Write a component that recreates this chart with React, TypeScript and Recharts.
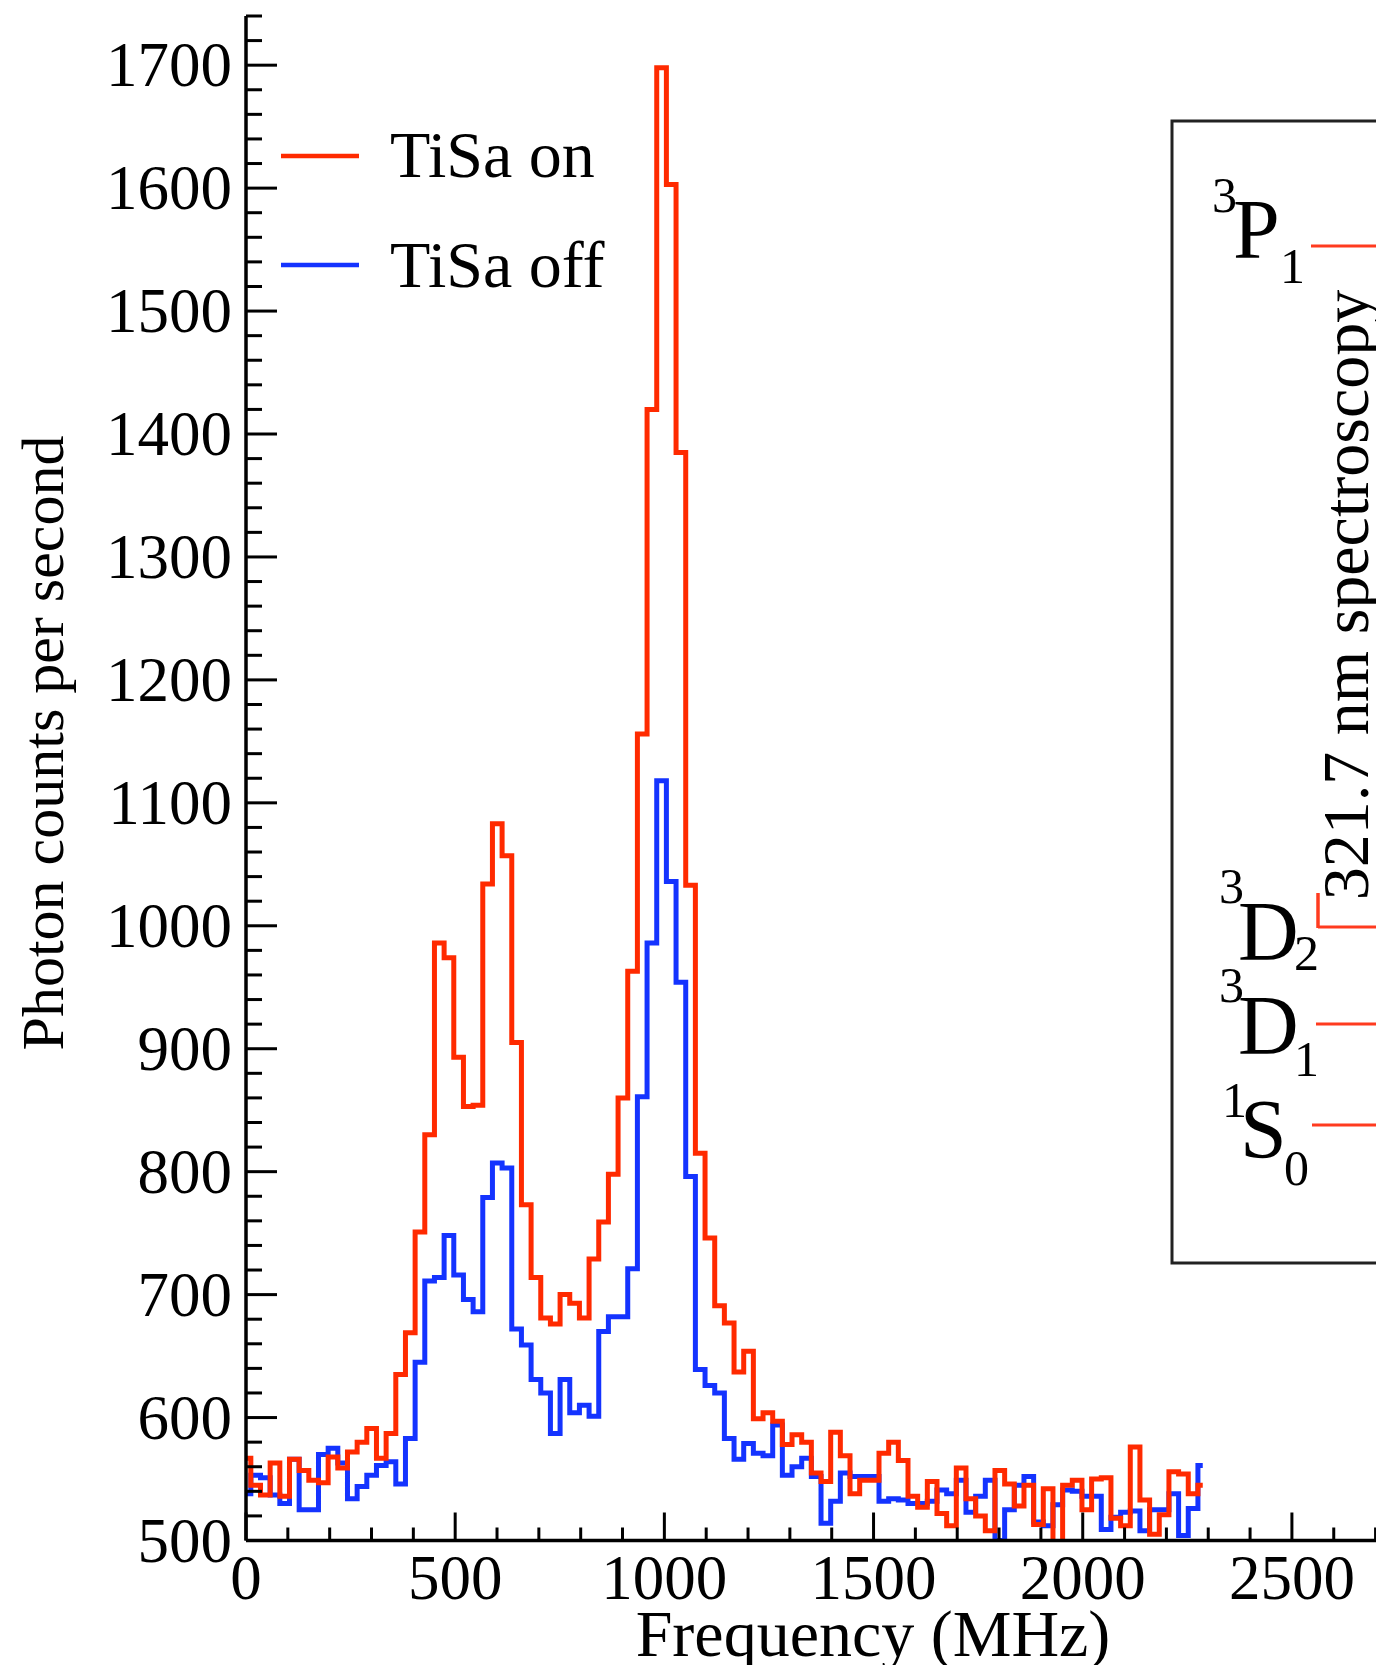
import React from 'react';
import { LineChart, Line, XAxis, YAxis } from 'recharts';

// bin centres of the frequency scan (MHz)
const freqMHz = [
  0, 23.1, 46.2, 69.3, 92.4, 115.5, 138.6, 161.7, 184.8, 207.9,
  231, 254.1, 277.2, 300.3, 323.4, 346.5, 369.6, 392.7, 415.8, 438.9,
  462, 485.1, 508.2, 531.3, 554.4, 577.5, 600.6, 623.7, 646.8, 669.9,
  693, 716.1, 739.2, 762.3, 785.4, 808.5, 831.6, 854.7, 877.8, 900.9,
  924, 947.1, 970.2, 993.3, 1016.4, 1039.5, 1062.6, 1085.7, 1108.8, 1131.9,
  1155, 1178.1, 1201.2, 1224.3, 1247.4, 1270.5, 1293.6, 1316.7, 1339.8, 1362.9,
  1386, 1409.1, 1432.2, 1455.3, 1478.4, 1501.5, 1524.6, 1547.7, 1570.8, 1593.9,
  1617, 1640.1, 1663.2, 1686.3, 1709.4, 1732.5, 1755.6, 1778.7, 1801.8, 1824.9,
  1848, 1871.1, 1894.2, 1917.3, 1940.4, 1963.5, 1986.6, 2009.7, 2032.8, 2055.9,
  2079, 2102.1, 2125.2, 2148.3, 2171.4, 2194.5, 2217.6, 2240.7, 2263.8, 2286.9,
];

// photon counts per second, TiSa on (red)
const tisaOn = [
  567, 545, 537, 563, 536, 566, 557, 549, 547, 568,
  559, 572, 580, 591, 567, 587, 635, 669, 751, 830,
  986, 974, 893, 853, 854, 1034, 1083, 1057, 905, 773,
  714, 681, 676, 700, 693, 681, 729, 759, 798, 860,
  963, 1156, 1420, 1698, 1603, 1385, 1033, 815, 746, 691,
  677, 637, 654, 599, 604, 597, 578, 586, 580, 555,
  548, 588, 569, 538, 549, 549, 571, 580, 565, 536,
  527, 548, 522, 512, 559, 534, 520, 508, 557, 546,
  528, 545, 513, 542, 499, 545, 549, 525, 550, 551,
  518, 512, 576, 533, 505, 521, 556, 554, 538, 545,
];

// photon counts per second, TiSa off (blue)
const tisaOff = [
  538, 553, 551, 537, 530, 566, 525, 525, 570, 575,
  563, 534, 544, 553, 561, 564, 546, 583, 645, 711,
  714, 748, 716, 696, 686, 779, 807, 803, 672, 659,
  631, 620, 587, 631, 604, 610, 601, 670, 682, 682,
  721, 861, 986, 1118, 1036, 954, 796, 639, 626, 620,
  583, 566, 579, 571, 569, 594, 553, 560, 567, 552,
  514, 532, 555, 552, 552, 552, 532, 534, 533, 530,
  530, 532, 541, 538, 549, 523, 536, 549, 500, 525,
  545, 552, 515, 512, 529, 541, 540, 536, 536, 509,
  519, 523, 524, 508, 525, 525, 538, 504, 526, 561,
];

const xTickLabels = [0, 500, 1000, 1500, 2000, 2500];
const yTickLabels = [500, 600, 700, 800, 900, 1000, 1100, 1200, 1300, 1400, 1500, 1600, 1700];

const data = freqMHz.map((f, i) => ({ freq: f, on: tisaOn[i], off: tisaOff[i] }));

// minor ticks: every 100 MHz and every 20 counts
const xTicks = Array.from({ length: 28 }, (_, i) => i * 100);
const yTicks = Array.from({ length: 63 }, (_, i) => 500 + i * 20);

const serif = '"Liberation Serif", "Times New Roman", serif';
const RED = '#ff2a00';
const BLUE = '#1433ff';
const LEVEL_RED = '#ff3b1f';

const XTick = (props: any) => {
  const { x, y, payload } = props;
  const v = payload.value as number;
  const major = xTickLabels.includes(v);
  return (
    <g>
      <line x1={x} x2={x} y1={y} y2={y - (major ? 28 : 13)} stroke="#000" strokeWidth={3} />
      {major && (
        <text x={x} y={y + 58} textAnchor="middle" fontFamily={serif} fontSize={63} fill="#000">
          {v}
        </text>
      )}
    </g>
  );
};

const YTick = (props: any) => {
  const { x, y, payload } = props;
  const v = payload.value as number;
  const major = yTickLabels.includes(v);
  return (
    <g>
      <line x1={x} x2={x + (major ? 31 : 16)} y1={y} y2={y} stroke="#000" strokeWidth={3} />
      {major && (
        <text x={x - 14} y={y + 21} textAnchor="end" fontFamily={serif} fontSize={63} fill="#000">
          {v}
        </text>
      )}
    </g>
  );
};

const Level = ({ sup, big, sub, supX, supY, bigX, bigY, subX, subY }: any) => (
  <g fontFamily={serif} fill="#000">
    <text x={supX} y={supY} fontSize={50}>{sup}</text>
    <text x={bigX} y={bigY} fontSize={84}>{big}</text>
    <text x={subX} y={subY} fontSize={50}>{sub}</text>
  </g>
);

export default function App() {
  return (
    <div style={{ position: 'absolute', left: 0, top: 0, width: 1376, height: 1665, background: '#fff', overflow: 'hidden' }}>
      <LineChart width={1376} height={1665} data={data} margin={{ top: 16, right: 0, bottom: 0, left: 0 }}>
        <XAxis
          dataKey="freq"
          type="number"
          domain={[0, 2701]}
          ticks={xTicks}
          interval={0}
          height={124.5}
          tickSize={0}
          tickMargin={0}
          tickLine={false}
          axisLine={{ stroke: '#000', strokeWidth: 3.5 }}
          tick={XTick}
          allowDataOverflow
        />
        <YAxis
          type="number"
          domain={[500, 1740]}
          ticks={yTicks}
          interval={0}
          width={246}
          tickSize={0}
          tickMargin={0}
          tickLine={false}
          axisLine={{ stroke: '#000', strokeWidth: 3.5 }}
          tick={YTick}
          allowDataOverflow
        />
        <Line type="step" dataKey="off" stroke={BLUE} strokeWidth={5} dot={false} activeDot={false} isAnimationActive={false} />
        <Line type="step" dataKey="on" stroke={RED} strokeWidth={5} dot={false} activeDot={false} isAnimationActive={false} />
      </LineChart>

      <svg width={1376} height={1665} style={{ position: 'absolute', left: 0, top: 0, pointerEvents: 'none' }}>
        {/* axis titles */}
        <text transform="translate(63,743) rotate(-90)" textAnchor="middle" fontFamily={serif} fontSize={60} fill="#000">
          Photon counts per second
        </text>
        <text x={873} y={1656} textAnchor="middle" fontFamily={serif} fontSize={66} fill="#000">
          Frequency (MHz)
        </text>

        {/* legend */}
        <line x1={281} x2={359} y1={156} y2={156} stroke={RED} strokeWidth={4.5} />
        <text x={390} y={177} fontFamily={serif} fontSize={66} fill="#000">TiSa on</text>
        <line x1={281} x2={359} y1={265} y2={265} stroke={BLUE} strokeWidth={4.5} />
        <text x={390} y={287} fontFamily={serif} fontSize={66} fill="#000">TiSa off</text>

        {/* level scheme inset */}
        <rect x={1172} y={121} width={260} height={1142} fill="#fff" stroke="#222" strokeWidth={3} />
        <Level sup="3" big="P" sub="1" supX={1212} supY={212} bigX={1233} bigY={258} subX={1280} subY={283} />
        <Level sup="3" big="D" sub="2" supX={1219} supY={903} bigX={1238} bigY={960} subX={1294} subY={970} />
        <Level sup="3" big="D" sub="1" supX={1219} supY={1002} bigX={1238} bigY={1054} subX={1294} subY={1076} />
        <Level sup="1" big="S" sub="0" supX={1222} supY={1117} bigX={1240} bigY={1158} subX={1284} subY={1185} />
        <line x1={1311} x2={1376} y1={246} y2={246} stroke={LEVEL_RED} strokeWidth={3} />
        <line x1={1318} x2={1376} y1={927} y2={927} stroke={LEVEL_RED} strokeWidth={3} />
        <line x1={1318} x2={1318} y1={893} y2={928} stroke={LEVEL_RED} strokeWidth={3.5} />
        <line x1={1316} x2={1376} y1={1024} y2={1024} stroke={LEVEL_RED} strokeWidth={3} />
        <line x1={1312} x2={1376} y1={1125} y2={1125} stroke={LEVEL_RED} strokeWidth={3} />
        <text transform="translate(1368,595) rotate(-90)" textAnchor="middle" fontFamily={serif} fontSize={66} fill="#000">
          321.7 nm spectroscopy
        </text>
      </svg>
    </div>
  );
}
